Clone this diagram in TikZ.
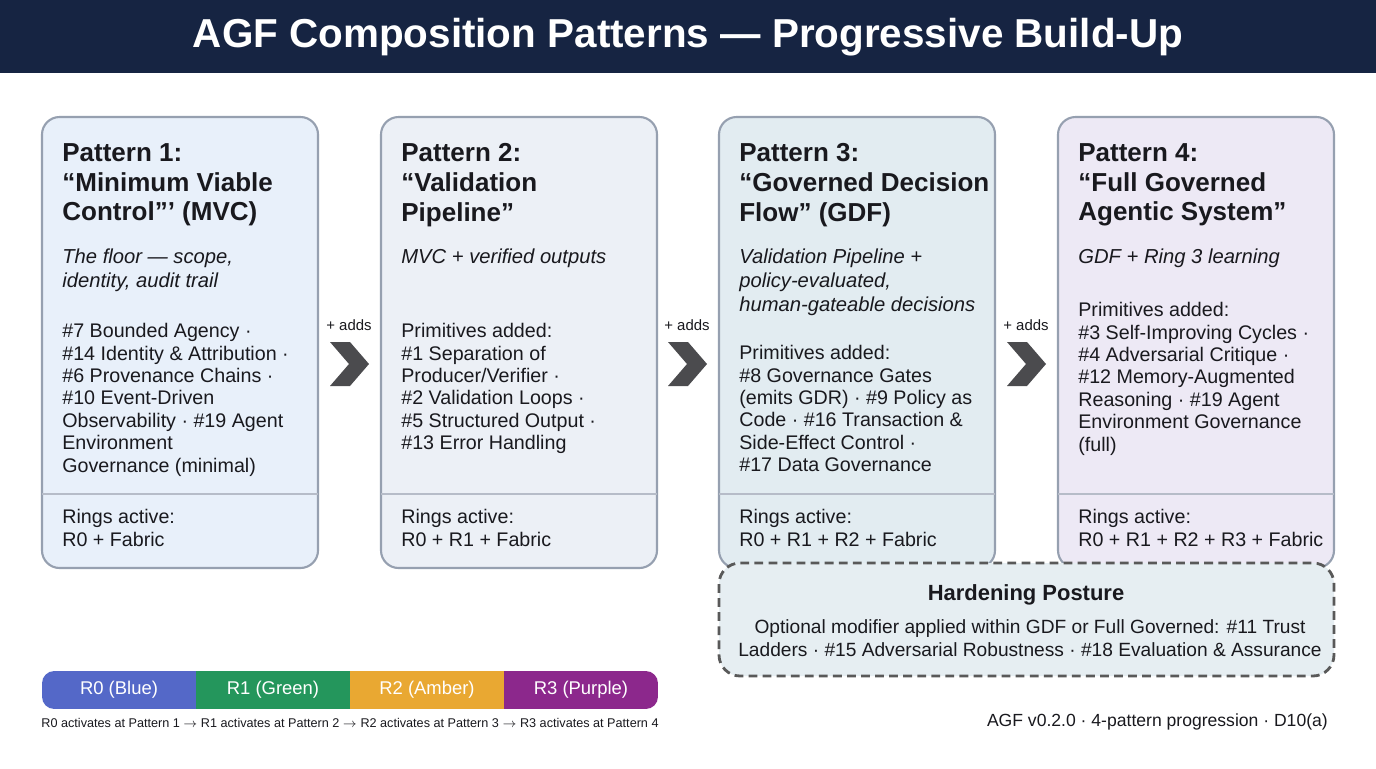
\documentclass[tikz,border=0pt]{standalone}
\usepackage{fontspec}
\setmainfont{Liberation Sans}
\usetikzlibrary{positioning, calc}
\definecolor{navy}{RGB}{22, 36, 66}
\definecolor{boxline}{RGB}{150, 160, 176}
\definecolor{fillone}{RGB}{232, 240, 250}
\definecolor{filltwo}{RGB}{236, 240, 246}
\definecolor{fillthree}{RGB}{226, 236, 241}
\definecolor{fillfour}{RGB}{237, 233, 245}
\definecolor{fillhard}{RGB}{230, 238, 242}
\definecolor{ringblue}{RGB}{84, 104, 200}
\definecolor{ringgreen}{RGB}{36, 150, 92}
\definecolor{ringamber}{RGB}{233, 168, 50}
\definecolor{ringpurple}{RGB}{140, 40, 140}
\definecolor{chevron}{RGB}{75, 75, 78}
\definecolor{inktext}{RGB}{25, 25, 30}

\begin{document}
\begin{tikzpicture}[
    x=0.02cm, y=-0.02cm,
    patternbox/.style={
        draw=boxline,
        line width=1.2pt,
        rounded corners=10pt
    },
    titletext/.style={anchor=north west, inner sep=0pt, align=left, text=inktext,
        font=\fontsize{14.8}{17}\selectfont\bfseries},
    subtext/.style={anchor=north west, inner sep=0pt, align=left, text=inktext,
        font=\fontsize{11.5}{13.6}\selectfont\itshape},
    bodytext/.style={anchor=north west, inner sep=0pt, align=left, text=inktext,
        font=\fontsize{11.2}{12.75}\selectfont},
    addslabel/.style={font=\fontsize{8.5}{10}\selectfont, text=inktext},
    ringlabel/.style={text=white, font=\fontsize{10.5}{12}\selectfont}
]

    % background and page frame
    \useasboundingbox (0,0) rectangle (1376,768);
    \fill[white] (0,0) rectangle (1376,768);

    % --- Title band ---
    \fill[navy] (0,0) rectangle (1376,73);
    \node[text=white, font=\fontsize{23}{26}\selectfont\bfseries] (title) at (688,37)
        {AGF Composition Patterns — Progressive Build-Up};

    % --- Pattern boxes ---
    \draw[patternbox, fill=fillone] (42,117) rectangle (318,568);
    \draw[patternbox, fill=filltwo] (381,117) rectangle (657,568);
    \draw[patternbox, fill=fillthree] (719,117) rectangle (995,568);
    \draw[patternbox, fill=fillfour] (1058,117) rectangle (1334,568);
    \foreach \bx in {42, 381, 719, 1058}
        \draw[boxline!70, line width=0.6pt] (\bx,494) -- ++(276,0);

    % Pattern 1
    \node[titletext] (p1title) at (62,143)
        {Pattern 1:\\“Minimum Viable\\Control”' (MVC)};
    \node[subtext] (p1sub) at (62,249)
        {The floor — scope,\\identity, audit trail};
    \node[bodytext] (p1prim) at (62,323)
        {\#7 Bounded Agency ·\\\#14 Identity \& Attribution ·\\\#6 Provenance Chains ·\\\#10 Event-Driven\\Observability · \#19 Agent\\Environment\\Governance (minimal)};
    \node[bodytext] (p1rings) at (62,509) {Rings active:\\R0 + Fabric};

    % Pattern 2
    \node[titletext] (p2title) at (401,143)
        {Pattern 2:\\“Validation\\Pipeline”};
    \node[subtext] (p2sub) at (401,249) {MVC + verified outputs};
    \node[bodytext] (p2prim) at (401,323)
        {Primitives added:\\\#1 Separation of\\Producer/Verifier ·\\\#2 Validation Loops ·\\\#5 Structured Output ·\\\#13 Error Handling};
    \node[bodytext] (p2rings) at (401,509) {Rings active:\\R0 + R1 + Fabric};

    % Pattern 3
    \node[titletext] (p3title) at (739,143)
        {Pattern 3:\\“Governed Decision\\Flow” (GDF)};
    \node[subtext] (p3sub) at (739,249)
        {Validation Pipeline +\\policy-evaluated,\\human-gateable decisions};
    \node[bodytext] (p3prim) at (739,345)
        {Primitives added:\\\#8 Governance Gates\\(emits GDR) · \#9 Policy as\\Code · \#16 Transaction \&\\Side-Effect Control ·\\\#17 Data Governance};
    \node[bodytext] (p3rings) at (739,509) {Rings active:\\R0 + R1 + R2 + Fabric};

    % Pattern 4
    \node[titletext] (p4title) at (1078,143)
        {Pattern 4:\\“Full Governed\\Agentic System”};
    \node[subtext] (p4sub) at (1078,249) {GDF + Ring 3 learning};
    \node[bodytext] (p4prim) at (1078,302)
        {Primitives added:\\\#3 Self-Improving Cycles ·\\\#4 Adversarial Critique ·\\\#12 Memory-Augmented\\Reasoning · \#19 Agent\\Environment Governance\\(full)};
    \node[bodytext] (p4rings) at (1078,509) {Rings active:\\R0 + R1 + R2 + R3 + Fabric};

    % --- Chevrons between boxes ---
    \foreach \cx in {330, 668, 1007} {
        \node[addslabel] at (\cx+19,325) {+ adds};
        \fill[chevron] (\cx,342) -- (\cx+20,342) -- (\cx+39,364) -- (\cx+20,386)
            -- (\cx,386) -- (\cx+19,364) -- cycle;
    }

    % --- Hardening posture ---
    \draw[black!65, line width=1.6pt, dash pattern=on 5pt off 3pt,
        rounded corners=12pt, fill=fillhard] (719,563) rectangle (1334,676);
    \node[font=\fontsize{12.5}{14}\selectfont\bfseries, text=inktext] (hardtitle)
        at (1026,595) {Hardening Posture};
    \node[font=\fontsize{10.9}{12.8}\selectfont, text=inktext, align=center] (hardbody)
        at (1030,638) {Optional modifier applied within GDF or Full Governed: \#11 Trust\\Ladders · \#15 Adversarial Robustness · \#18 Evaluation \& Assurance};

    % --- Ring legend ---
    \begin{scope}
        \clip[rounded corners=7pt] (42,671) rectangle (658,709);
        \fill[ringblue] (42,671) rectangle (196,709);
        \fill[ringgreen] (196,671) rectangle (350,709);
        \fill[ringamber] (350,671) rectangle (504,709);
        \fill[ringpurple] (504,671) rectangle (658,709);
    \end{scope}
    \node[ringlabel] (r0) at (119,690) {R0 (Blue)};
    \node[ringlabel] (r1) at (273,690) {R1 (Green)};
    \node[ringlabel] (r2) at (427,690) {R2 (Amber)};
    \node[ringlabel] (r3) at (581,690) {R3 (Purple)};
    \node[font=\fontsize{7.2}{9}\selectfont, text=inktext] (ringnote) at (350,723)
        {R0 activates at Pattern 1 $\rightarrow$ R1 activates at Pattern 2 $\rightarrow$ R2 activates at Pattern 3 $\rightarrow$ R3 activates at Pattern 4};

    % footer
    \node[anchor=east, font=\fontsize{10}{12}\selectfont, text=inktext] (footer)
        at (1334,722) {AGF v0.2.0 · 4-pattern progression · D10(a)};

\end{tikzpicture}
\end{document}
